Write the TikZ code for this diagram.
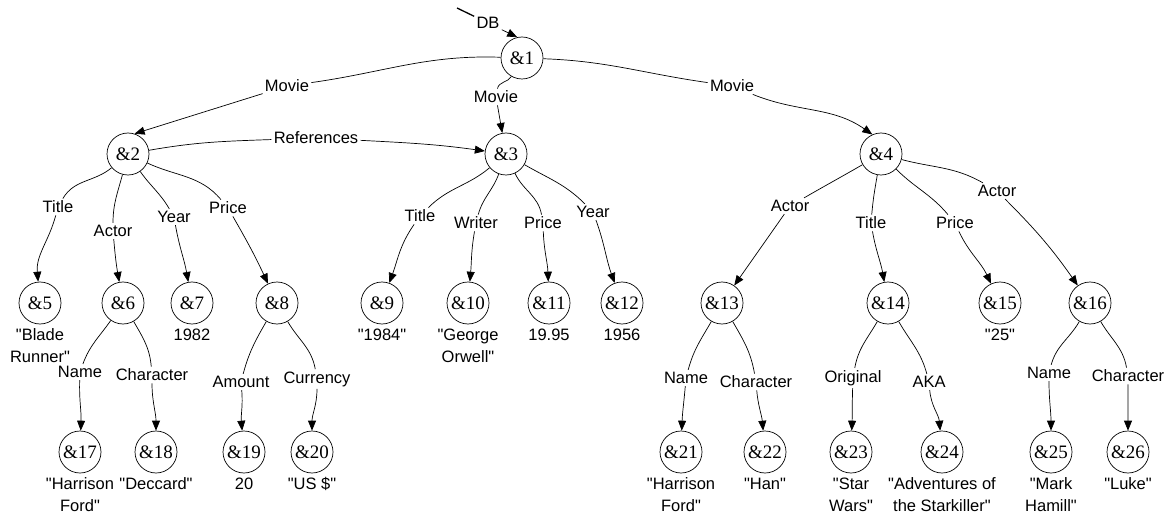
\documentclass[tikz,border=0pt]{standalone}
\usepackage{fontspec}
\setmainfont{Liberation Serif}
\setsansfont[Ligatures=TeXOff]{Liberation Sans}
\usepackage{tikz}
\usetikzlibrary{positioning, arrows.meta}
\tikzset{
	>={Triangle[length=10pt,width=8pt]}, % filled arrow heads
	every path/.style={line width=0.7pt},
	obj/.style={circle, draw, minimum size=42pt, inner sep=0pt, font=\fontsize{19}{19}\selectfont}, % one object of the database
	lab/.style={inner sep=2pt, font=\sffamily\fontsize{16.5}{20}\selectfont}, % edge labels
	val/.style={inner sep=1pt, align=center, font=\sffamily\fontsize{16.5}{22}\selectfont}, % atomic values below an object
	edge/.style={->}, % the edges are directed
}
\begin{document}
\begin{tikzpicture}[x=1pt, y=-1pt]
	\useasboundingbox (0,0) rectangle (1175,513);
	% objects
	\node[obj] at (522,58) (n1) {\&1};
	\node[obj] at (128,154) (n2) {\&2};
	\node[obj] at (506,154) (n3) {\&3};
	\node[obj] at (881,154) (n4) {\&4};
	\node[obj] at (40,303) (n5) {\&5};
	\node[obj] at (123,303) (n6) {\&6};
	\node[obj] at (192,303) (n7) {\&7};
	\node[obj] at (277,303) (n8) {\&8};
	\node[obj] at (382,303) (n9) {\&9};
	\node[obj] at (468,303) (n10) {\&10};
	\node[obj] at (549,303) (n11) {\&11};
	\node[obj] at (622,303) (n12) {\&12};
	\node[obj] at (722,303) (n13) {\&13};
	\node[obj] at (888,303) (n14) {\&14};
	\node[obj] at (1000,303) (n15) {\&15};
	\node[obj] at (1090,303) (n16) {\&16};
	\node[obj] at (80,452) (n17) {\&17};
	\node[obj] at (156,452) (n18) {\&18};
	\node[obj] at (244,452) (n19) {\&19};
	\node[obj] at (312,452) (n20) {\&20};
	\node[obj] at (681,452) (n21) {\&21};
	\node[obj] at (765,452) (n22) {\&22};
	\node[obj] at (851,452) (n23) {\&23};
	\node[obj] at (942,452) (n24) {\&24};
	\node[obj] at (1051,452) (n25) {\&25};
	\node[obj] at (1128,452) (n26) {\&26};
	% values
	\node[val, below=3pt of n5] (v5) {"Blade\\Runner"};
	\node[val, below=3pt of n7] (v7) {1982};
	\node[val, below=3pt of n9] (v9) {"1984"};
	\node[val, below=3pt of n10] (v10) {"George\\Orwell"};
	\node[val, below=3pt of n11] (v11) {19.95};
	\node[val, below=3pt of n12] (v12) {1956};
	\node[val, below=3pt of n15] (v15) {"25"};
	\node[val, below=3pt of n17] (v17) {"Harrison\\Ford"};
	\node[val, below=3pt of n18] (v18) {"Deccard"};
	\node[val, below=3pt of n19] (v19) {20};
	\node[val, below=3pt of n20] (v20) {"US \$"};
	\node[val, below=3pt of n21] (v21) {"Harrison\\Ford"};
	\node[val, below=3pt of n22] (v22) {"Han"};
	\node[val, below=3pt of n23] (v23) {"Star\\Wars"};
	\node[val, below=3pt of n24] (v24) {"Adventures of\\the Starkiller"};
	\node[val, below=3pt of n25] (v25) {"Mark\\Hamill"};
	\node[val, below=3pt of n26] (v26) {"Luke"};
	% edge labels
	\coordinate (db0) at (457,8);
	\node[lab] at (488,23) (dbl) {DB};
	\node[lab] at (287,86) (a2) {Movie};
	\node[lab] at (496,97) (a3) {Movie};
	\node[lab] at (732,86) (a4) {Movie};
	\node[lab] at (316,138) (r3) {References};
	\node[lab] at (58,207) (a5) {Title};
	\node[lab] at (113,231) (a6) {Actor};
	\node[lab] at (174,217) (a7) {Year};
	\node[lab] at (228,208) (a8) {Price};
	\node[lab] at (420,216) (a9) {Title};
	\node[lab] at (476,223) (a10) {Writer};
	\node[lab] at (543,223) (a11) {Price};
	\node[lab] at (593,212) (a12) {Year};
	\node[lab] at (790,206) (a13) {Actor};
	\node[lab] at (871,223) (a14) {Title};
	\node[lab] at (955,223) (a15) {Price};
	\node[lab] at (997,191) (a16) {Actor};
	\node[lab] at (80,372) (a17) {Name};
	\node[lab] at (152,375) (a18) {Character};
	\node[lab] at (241,382) (a19) {Amount};
	\node[lab] at (317,379) (a20) {Currency};
	\node[lab] at (686,378) (a21) {Name};
	\node[lab] at (756,382) (a22) {Character};
	\node[lab] at (853,378) (a23) {Original};
	\node[lab] at (929,382) (a24) {AKA};
	\node[lab] at (1049,373) (a25) {Name};
	\node[lab] at (1128,376) (a26) {Character};
	% edges
	\draw[line width=1.3pt] (db0) -- (dbl);
	\draw[edge] (dbl) -- (n1.103);
	\draw[edge] (n1) to[out=178,in=8] (a2) -- (n2.72);
	\draw[edge] (n1) to[out=240,in=80] (a3) to[out=-80,in=100] (n3);
	\draw[edge] (n1) to[out=-2,in=172] (a4) to[out=-22,in=145] (n4.114);
	\draw[edge] (n2) to[out=10,in=182] (r3) to[out=-3,in=172] (n3);
	\draw[edge] (n2) to[out=220,in=60] (a5) to[out=255,in=95] (n5);
	\draw[edge] (n2) to[out=255,in=90] (a6) to[out=-85,in=100] (n6);
	\draw[edge] (n2) to[out=-55,in=120] (a7) to[out=-80,in=100] (n7);
	\draw[edge] (n2) to[out=-25,in=130] (a8) to[out=-60,in=115] (n8);
	\draw[edge] (n3) to[out=220,in=45] (a9) to[out=235,in=70] (n9);
	\draw[edge] (n3) to[out=250,in=75] (a10) to[out=-100,in=85] (n10);
	\draw[edge] (n3) to[out=-65,in=100] (a11) to[out=-88,in=92] (n11);
	\draw[edge] (n3) to[out=-30,in=135] (a12) to[out=-70,in=110] (n12);
	\draw[edge] (n4) to[out=210,in=30] (a13) to[out=235,in=55] (n13);
	\draw[edge] (n4) to[out=260,in=85] (a14) to[out=-80,in=100] (n14);
	\draw[edge] (n4) to[out=-45,in=130] (a15) to[out=-65,in=115] (n15);
	\draw[edge] (n4) to[out=-15,in=150] (a16) to[out=-45,in=125] (n16);
	\draw[edge] (n6) to[out=235,in=70] (a17) to[out=-92,in=88] (n17);
	\draw[edge] (n6) to[out=-60,in=95] (a18) to[out=-90,in=90] (n18);
	\draw[edge] (n8) to[out=240,in=75] (a19) to[out=-85,in=95] (n19);
	\draw[edge] (n8) to[out=-60,in=100] (a20) to[out=-90,in=90] (n20);
	\draw[edge] (n13) to[out=240,in=75] (a21) to[out=-95,in=88] (n21);
	\draw[edge] (n13) to[out=-60,in=100] (a22) to[out=-85,in=95] (n22);
	\draw[edge] (n14) to[out=240,in=80] (a23) to[out=-92,in=88] (n23);
	\draw[edge] (n14) to[out=-60,in=105] (a24) to[out=-85,in=95] (n24);
	\draw[edge] (n16) to[out=240,in=75] (a25) to[out=-90,in=90] (n25);
	\draw[edge] (n16) to[out=-60,in=100] (a26) to[out=-90,in=90] (n26);
\end{tikzpicture}
\end{document}
